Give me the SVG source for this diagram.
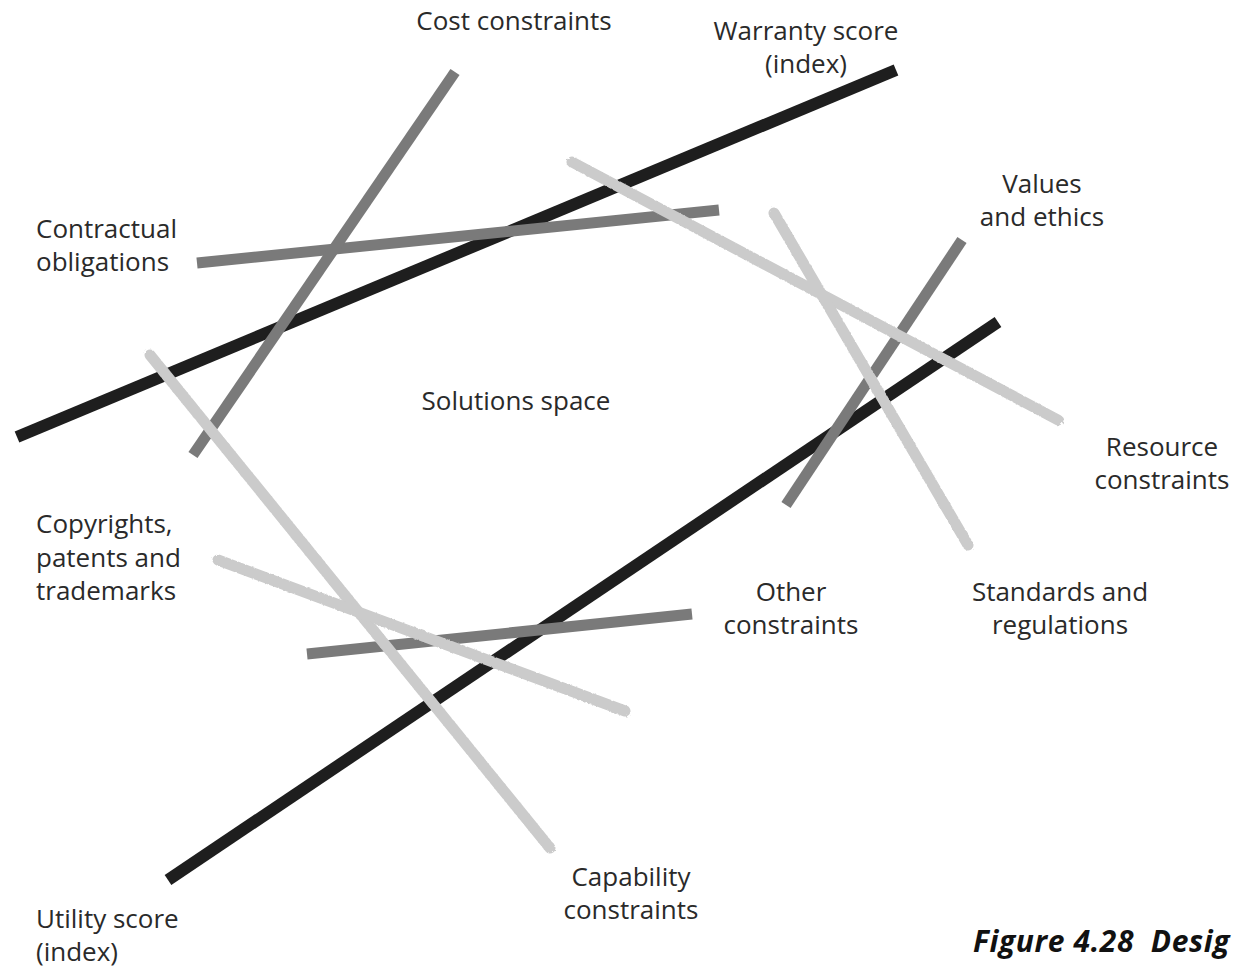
<svg xmlns="http://www.w3.org/2000/svg" width="1233" height="970" viewBox="0 0 1233 970">
<style>
text{font-family:"Open Sans","Noto Sans","Liberation Sans",sans-serif;font-size:26px;fill:#2a2a2a}
.c{text-anchor:middle}
.dk{stroke:#1e1e1e;stroke-width:12;fill:none}
.md{stroke:#7a7a7a;stroke-width:11;fill:none}
.lt{stroke:#cbcbcb;stroke-width:11;fill:none;stroke-linecap:round}
.fig{font-weight:bold;font-style:italic;font-size:30px;fill:#111;white-space:pre;letter-spacing:0.6px}
</style>
<defs>
<filter id="rough" x="-5%" y="-5%" width="110%" height="110%">
<feTurbulence type="fractalNoise" baseFrequency="0.35" numOctaves="2" seed="3"/>
<feDisplacementMap in="SourceGraphic" scale="3"/>
</filter>
</defs>
<rect width="1233" height="970" fill="#fff"/>
<g id="connectors">
<line class="dk" x1="17" y1="437" x2="896" y2="70"/>
<line class="dk" x1="998" y1="322" x2="168" y2="880"/>
<line class="md" x1="197" y1="263" x2="719" y2="210"/>
<line class="md" x1="455" y1="72" x2="193" y2="455"/>
<line class="md" x1="962" y1="240" x2="786" y2="505"/>
<line class="md" x1="307" y1="654" x2="692" y2="614"/>
<g filter="url(#rough)">
<line class="lt" x1="572" y1="162" x2="1058" y2="420"/>
<line class="lt" x1="774" y1="213" x2="968" y2="545"/>
<line class="lt" x1="150" y1="355" x2="550" y2="848"/>
<line class="lt" x1="218" y1="560" x2="625" y2="711"/>
</g>
</g>
<g id="cost"><text class="c" x="514" y="30">Cost constraints</text></g>
<g id="warranty"><text class="c" x="806" y="40">Warranty score</text><text class="c" x="806" y="73">(index)</text></g>
<g id="contractual"><text x="36" y="238">Contractual</text><text x="36" y="271">obligations</text></g>
<g id="values"><text class="c" x="1042" y="193">Values</text><text class="c" x="1042" y="226">and ethics</text></g>
<g id="solutions"><text class="c" x="516" y="410">Solutions space</text></g>
<g id="resource"><text class="c" x="1162" y="456">Resource</text><text class="c" x="1162" y="489">constraints</text></g>
<g id="copyrights"><text x="36" y="533">Copyrights,</text><text x="36" y="567">patents and</text><text x="36" y="600">trademarks</text></g>
<g id="other"><text class="c" x="791" y="601">Other</text><text class="c" x="791" y="634">constraints</text></g>
<g id="standards"><text class="c" x="1060" y="601">Standards and</text><text class="c" x="1060" y="634">regulations</text></g>
<g id="capability"><text class="c" x="631" y="886">Capability</text><text class="c" x="631" y="919">constraints</text></g>
<g id="utility"><text x="36" y="928">Utility score</text><text x="36" y="961">(index)</text></g>
<g id="caption"><text class="fig" x="973" y="952">Figure 4.28  Desig</text></g>
</svg>
